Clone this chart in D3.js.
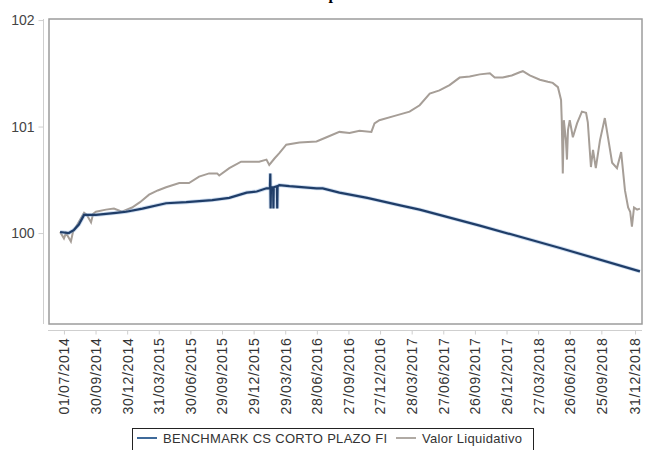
<!DOCTYPE html>
<html>
<head>
<meta charset="utf-8">
<script src="https://cdn.jsdelivr.net/npm/d3@7"></script>
<style>
  body { margin: 0; background: #fff; }
  svg { display: block; }
</style>
</head>
<body>
<div class="container"></div>
<script>
const WIDTH = 647;
const HEIGHT = 450;

// Valor Liquidativo (grey line)
var navDates = ["2014-06-20","2014-07-01","2014-07-07","2014-07-21","2014-07-27","2014-08-05","2014-08-28","2014-09-05",
  "2014-09-17","2014-09-23","2014-10-01","2014-10-30","2014-11-22","2014-12-15","2015-01-13","2015-02-05","2015-03-03",
  "2015-03-28","2015-04-21","2015-05-29","2015-06-26","2015-07-25","2015-08-23","2015-09-15","2015-09-21","2015-10-20",
  "2015-11-23","2015-12-16","2016-01-14","2016-02-04","2016-02-12","2016-02-27","2016-03-12","2016-04-01","2016-05-09",
  "2016-06-27","2016-07-26","2016-09-01","2016-09-30","2016-10-29","2016-12-02","2016-12-11","2016-12-25","2017-02-07",
  "2017-03-22","2017-04-20","2017-05-19","2017-06-16","2017-07-15","2017-08-13","2017-09-11","2017-10-10","2017-11-08",
  "2017-11-22","2017-12-15","2018-01-10","2018-02-02","2018-02-11","2018-03-03","2018-04-01","2018-04-24","2018-05-08",
  "2018-05-23","2018-06-01","2018-06-03","2018-06-06","2018-06-09","2018-06-15","2018-06-18","2018-06-21","2018-06-26",
  "2018-07-05","2018-07-17","2018-07-31","2018-08-12","2018-08-17","2018-08-26","2018-09-01","2018-09-09","2018-09-21",
  "2018-10-05","2018-10-14","2018-10-26","2018-11-09","2018-11-21","2018-12-02","2018-12-11","2018-12-17","2018-12-22",
  "2018-12-28","2019-01-06","2019-01-14"];
var navValues = [100.01,99.95,100.00,99.92,100.01,100.06,100.19,100.17,
  100.10,100.18,100.20,100.22,100.23,100.20,100.24,100.29,100.36,
  100.40,100.43,100.47,100.47,100.53,100.56,100.56,100.54,100.61,
  100.67,100.67,100.67,100.69,100.64,100.70,100.75,100.83,100.85,
  100.86,100.90,100.95,100.94,100.96,100.95,101.03,101.06,101.10,
  101.14,101.20,101.31,101.34,101.39,101.46,101.47,101.49,101.50,
  101.46,101.46,101.48,101.51,101.52,101.48,101.44,101.42,101.41,
  101.37,101.25,101.06,100.56,101.06,100.87,100.69,100.97,101.06,
  100.90,101.03,101.14,101.13,101.04,100.62,100.78,100.61,100.87,
  101.08,100.90,100.66,100.61,100.76,100.40,100.24,100.20,100.06,
  100.24,100.22,100.23];

// BENCHMARK CS CORTO PLAZO FI (blue line)
var benchDates = ["2014-06-20","2014-07-15","2014-07-30","2014-08-13","2014-08-28","2014-10-01","2014-11-28","2014-12-27",
  "2015-02-12","2015-04-21","2015-06-18","2015-09-01","2015-10-20","2015-12-09","2016-01-07","2016-02-04","2016-02-14",
  "2016-02-15","2016-02-16","2016-02-17","2016-02-23","2016-02-24","2016-02-25","2016-03-05","2016-03-06","2016-03-07",
  "2016-03-12","2016-04-10","2016-06-27","2016-07-15","2016-09-01","2016-11-20","2017-02-23","2017-04-20","2017-10-10",
  "2018-05-29","2019-01-14"];
var benchValues = [100.01,100.00,100.03,100.08,100.17,100.17,100.19,100.20,
  100.23,100.28,100.29,100.31,100.33,100.38,100.39,100.42,100.42,
  100.56,100.23,100.43,100.43,100.23,100.43,100.44,100.23,100.44,
  100.45,100.44,100.42,100.42,100.38,100.33,100.26,100.22,100.07,
  99.86,99.64];

var tickDates = ["2014-07-01","2014-09-30","2014-12-30","2015-03-31","2015-06-30","2015-09-29","2015-12-29","2016-03-29",
  "2016-06-28","2016-09-27","2016-12-27","2017-03-28","2017-06-27","2017-09-26","2017-12-26","2018-03-27","2018-06-26",
  "2018-09-25","2018-12-31"];
var yTicks = [100, 101, 102];

var seriesNames = ["BENCHMARK CS CORTO PLAZO FI", "Valor Liquidativo"];
var seriesColors = ["#1f3d68", "#a69e97"];

var parse = d3.timeParse("%Y-%m-%d");
var fmt = d3.timeFormat("%d/%m/%Y");

var drawChart = function(){
    var x = d3.scaleTime()
        .domain([parse("2014-05-19"), parse("2019-01-20")])
        .range([49, 642]);
    var y = d3.scaleLinear().domain([99.146, 102.01]).range([324, 19]);

    var svg = d3.select('.container')
        .append('svg')
        .attr("width", WIDTH)
        .attr("height", HEIGHT)
        .style("font-family", "'Liberation Sans', Arial, sans-serif");

    // title, almost entirely above the visible area
    svg.append("text")
        .attr("x", 341).attr("y", -1)
        .attr("text-anchor", "middle")
        .style("font-family", "'Liberation Serif', serif")
        .style("font-weight", "bold")
        .style("font-size", "16px")
        .text("Comparativa");

    // frame
    svg.append("rect")
        .attr("x", 49).attr("y", 19)
        .attr("width", 593).attr("height", 305)
        .attr("fill", "none")
        .attr("stroke", "#9c9c9c")
        .attr("stroke-width", 1.5);

    // y axis
    var yAxis = svg.append("g")
        .attr("transform", "translate(43.5,0)")
        .call(d3.axisLeft(y).tickValues(yTicks).tickSize(5).tickPadding(4).tickFormat(d3.format("d")));
    yAxis.select(".domain").attr("d", "M0," + 19 + "V" + 324).attr("stroke", "#cfcfcf");
    yAxis.selectAll(".tick line").attr("stroke", "#cfcfcf");
    yAxis.selectAll("text").attr("fill", "#444").style("font-size", "14px");

    // x axis
    var xAxis = svg.append("g")
        .attr("transform", "translate(0,330.5)")
        .call(d3.axisBottom(x).tickValues(tickDates.map(parse)).tickSize(4).tickFormat(fmt));
    xAxis.select(".domain").attr("d", "M48,0H642").attr("stroke", "#cfcfcf");
    xAxis.selectAll(".tick line").attr("stroke", "#cfcfcf");
    xAxis.selectAll("text")
        .attr("fill", "#333")
        .style("font-size", "14px")
        .style("letter-spacing", "0.7px")
        .attr("text-anchor", "end")
        .attr("transform", "rotate(-90)")
        .attr("x", -7)
        .attr("y", 0)
        .attr("dy", "0.35em");

    var line = d3.line()
        .x(function(d){ return x(d.date); })
        .y(function(d){ return y(d.value); });

    var nav = navDates.map(function(d, i){ return {date: parse(d), value: navValues[i]}; });
    var bench = benchDates.map(function(d, i){ return {date: parse(d), value: benchValues[i]}; });

    svg.append("path")
        .datum(nav)
        .attr("d", line)
        .attr("fill", "none")
        .attr("stroke", seriesColors[1])
        .attr("stroke-width", 2);

    svg.append("path")
        .datum(bench)
        .attr("d", line)
        .attr("fill", "none")
        .attr("stroke", "#6f9bd0")
        .attr("stroke-opacity", 0.35)
        .attr("stroke-width", 4);

    svg.append("path")
        .datum(bench)
        .attr("d", line)
        .attr("fill", "none")
        .attr("stroke", seriesColors[0])
        .attr("stroke-width", 2.2);

    // legend
    var legend = svg.append("g");
    legend.append("rect")
        .attr("x", 132.5).attr("y", 428.5)
        .attr("width", 401).attr("height", 30)
        .attr("fill", "#fff")
        .attr("stroke", "#222");
    var items = [{x: 137, tx: 163}, {x: 396, tx: 422}];
    items.forEach(function(it, i){
        legend.append("line")
            .attr("x1", it.x).attr("x2", it.x + 20)
            .attr("y1", 438).attr("y2", 438)
            .attr("stroke", i === 0 ? "#3f6a9a" : "#b0aaa4")
            .attr("stroke-width", 2);
        legend.append("text")
            .attr("x", it.tx).attr("y", 443)
            .attr("fill", "#333")
            .style("font-size", "13px")
            .style("letter-spacing", "0.3px")
            .text(seriesNames[i]);
    });
};

drawChart();
</script>
</body>
</html>
